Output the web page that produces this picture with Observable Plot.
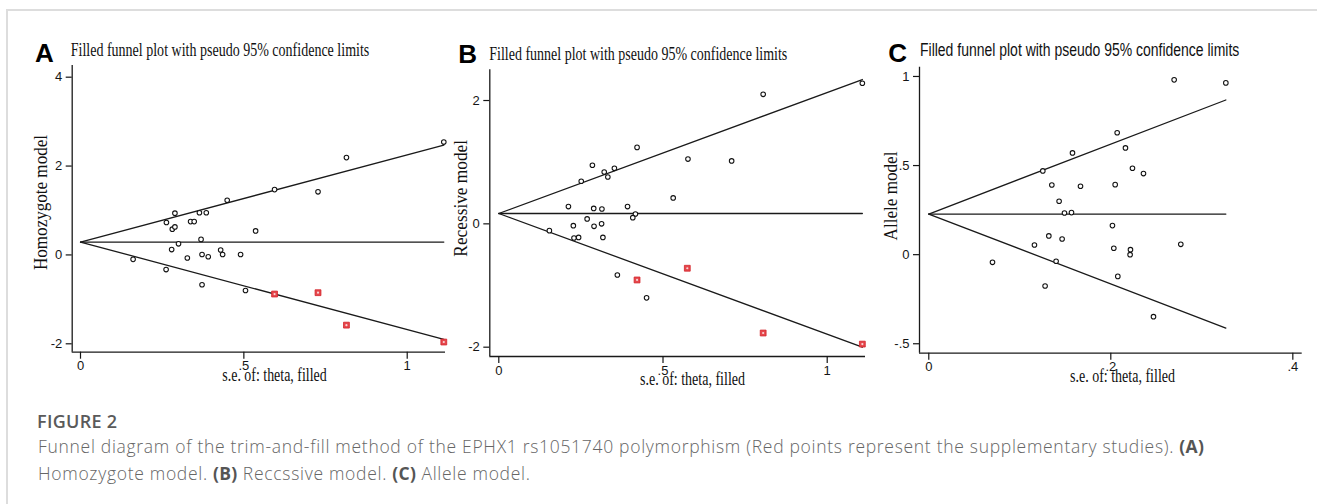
<!DOCTYPE html>
<html>
<head>
<meta charset="utf-8">
<script src="https://cdn.jsdelivr.net/npm/d3@7"></script>
<script src="https://cdn.jsdelivr.net/npm/@observablehq/plot@0.6"></script>
<style>
  html, body { margin: 0; padding: 0; background: #fff; }
  body { width: 1317px; height: 504px; overflow: hidden; position: relative; }
  #card { position: absolute; left: 6px; top: 9px; width: 1320px; height: 500px;
          border-top: 2px solid #dddddd; border-left: 2px solid #dddddd; }
  .panel { position: absolute; top: 0; }
  .panel svg { overflow: visible; }
  #figlabel { position: absolute; left: 37px; top: 409px; font-family: "Open Sans", "Noto Sans", sans-serif;
              font-weight: 600; font-size: 18px; color: #5a5a5a; letter-spacing: 0.3px; white-space: nowrap; }
  #caption { position: absolute; left: 38px; top: 433px; font-family: "Open Sans", "Noto Sans", sans-serif;
             font-weight: 300; font-size: 17.5px; letter-spacing: 0.7px; line-height: 27px; color: #666; white-space: nowrap; }
  #caption b { font-weight: 700; color: #555; letter-spacing: 0.3px; }
</style>
</head>
<body>
<div id="card"></div>
<div id="pA" class="panel"></div>
<div id="pB" class="panel"></div>
<div id="pC" class="panel"></div>
<div id="figlabel">FIGURE 2</div>
<div id="caption">Funnel diagram of the trim-and-fill method of the EPHX1 rs1051740 polymorphism (Red points represent the supplementary studies). <b>(A)</b><br>Homozygote model. <b>(B)</b> Reccssive model. <b>(C)</b> Allele model.</div>
<script>
// ---------------- DATA ----------------
// Panel A: Homozygote model (observed studies)
const seA = [1.112, 0.814, 0.727, 0.594, 0.449, 0.536, 0.289, 0.263, 0.281, 0.289, 0.337, 0.348, 0.364, 0.385,
             0.369, 0.300, 0.279, 0.327, 0.372, 0.391, 0.429, 0.435, 0.490, 0.161, 0.262, 0.372, 0.505];
const esA = [2.54, 2.19, 1.42, 1.47, 1.23, 0.54, 0.94, 0.73, 0.58, 0.63, 0.75, 0.75, 0.95, 0.95,
             0.35, 0.25, 0.12, -0.07, 0.01, -0.04, 0.11, 0.01, 0.01, -0.10, -0.33, -0.67, -0.80];
// Panel A: filled (supplementary) studies
const seFillA = [0.594, 0.727, 0.814, 1.112];
const esFillA = [-0.88, -0.85, -1.58, -1.96];
// Panel A: pseudo 95% limits (read endpoints)
const funnelSeA = [0, 1.112];
const funnelUpA = [0.29, 2.47];
const funnelLoA = [0.29, -1.90];
const thetaA = 0.29;

// Panel B: Recessive model
const seB = [1.107, 0.805, 0.421, 0.576, 0.709, 0.285, 0.321, 0.332, 0.352, 0.251, 0.531, 0.212, 0.289, 0.314,
             0.392, 0.416, 0.408, 0.269, 0.313, 0.227, 0.290, 0.154, 0.229, 0.243, 0.317, 0.361, 0.450];
const esB = [2.28, 2.10, 1.24, 1.05, 1.02, 0.95, 0.84, 0.76, 0.90, 0.69, 0.42, 0.28, 0.25, 0.24,
             0.28, 0.16, 0.10, 0.08, 0.00, -0.03, -0.04, -0.11, -0.23, -0.22, -0.22, -0.83, -1.20];
const seFillB = [0.421, 0.574, 0.805, 1.107];
const esFillB = [-0.91, -0.72, -1.77, -1.95];
const funnelSeB = [0, 1.107];
const funnelUpB = [0.168, 2.34];
const funnelLoB = [0.168, -2.00];
const thetaB = 0.168;

// Panel C: Allele model
const seC = [0.2696, 0.3264, 0.2070, 0.2161, 0.1579, 0.2238, 0.2359, 0.1253, 0.1352, 0.1667, 0.2048, 0.1432, 0.1491, 0.1568,
             0.2018, 0.1319, 0.1465, 0.1161, 0.2033, 0.2216, 0.2212, 0.2769, 0.0700, 0.1399, 0.1278, 0.2077, 0.2469];
const esC = [0.981, 0.964, 0.684, 0.599, 0.571, 0.485, 0.455, 0.470, 0.391, 0.384, 0.393, 0.300, 0.234, 0.236,
             0.163, 0.105, 0.088, 0.054, 0.036, 0.028, 0.000, 0.058, -0.043, -0.037, -0.176, -0.122, -0.348];
const seFillC = [];
const esFillC = [];
const funnelSeC = [0, 0.3264];
const funnelUpC = [0.228, 0.868];
const funnelLoC = [0.228, -0.412];
const thetaC = 0.228;

// Tick values and labels
const xTicksA = [0, 0.5, 1],        xTickLabelsA = ["0", ".5", "1"];
const yTicksA = [-2, 0, 2, 4],      yTickLabelsA = ["-2", "0", "2", "4"];
const xTicksB = [0, 0.5, 1],        xTickLabelsB = ["0", ".5", "1"];
const yTicksB = [-2, 0, 2],         yTickLabelsB = ["-2", "0", "2"];
const xTicksC = [0, 0.2, 0.4],      xTickLabelsC = ["0", ".2", ".4"];
const yTicksC = [-0.5, 0, 0.5, 1],  yTickLabelsC = ["-.5", "0", ".5", "1"];

const titleText = "Filled funnel plot with pseudo 95% confidence limits";
const xTitleText = "s.e. of: theta, filled";

// ---------------- LAYOUT ----------------
const SERIF = "'Liberation Serif', 'Times New Roman', serif";
const SANS = "'Liberation Sans', Arial, Helvetica, sans-serif";

const panels = [
  { id: "pA", left: 0, width: 450, mL: 71.7, mR: 5, mT: 65, mB: 48.3,
    xDom: [-0.0254, 1.1172], yDom: [-2.189, 4.263],
    se: seA, es: esA, seF: seFillA, esF: esFillA, fSe: funnelSeA, fUp: funnelUpA, fLo: funnelLoA, theta: thetaA,
    xt: xTicksA, xl: xTickLabelsA, yt: yTicksA, yl: yTickLabelsA,
    letter: "A", letterX: 35, letterY: 61.7,
    title: { x: 70.7, y: 56, len: 298.6, family: SERIF, size: 19 },
    yTitle: { text: "Homozygote model", x: 46.7, y: 202.5, len: 135 },
    xTitle: { x: 222.3, y: 380.7, len: 104.4 } },
  { id: "pB", left: 450, width: 420, mL: 39.3, mR: 5, mT: 69.3, mB: 44,
    xDom: [-0.0274, 1.1166], yDom: [-2.151, 2.498],
    se: seB, es: esB, seF: seFillB, esF: esFillB, fSe: funnelSeB, fUp: funnelUpB, fLo: funnelLoB, theta: thetaB,
    xt: xTicksB, xl: xTickLabelsB, yt: yTicksB, yl: yTickLabelsB,
    letter: "B", letterX: 8.3, letterY: 62.7,
    title: { x: 39.3, y: 60, len: 298, family: SERIF, size: 19 },
    yTitle: { text: "Recessive model", x: 17.3, y: 198.3, len: 116.7 },
    xTitle: { x: 190, y: 385, len: 105 } },
  { id: "pC", left: 870, width: 447, mL: 49, mR: 15.3, mT: 66.7, mB: 47.3,
    xDom: [-0.0102, 0.4103], yDom: [-0.553, 1.052],
    se: seC, es: esC, seF: seFillC, esF: esFillC, fSe: funnelSeC, fUp: funnelUpC, fLo: funnelLoC, theta: thetaC,
    xt: xTicksC, xl: xTickLabelsC, yt: yTicksC, yl: yTickLabelsC,
    letter: "C", letterX: 18.3, letterY: 61.7,
    title: { x: 50, y: 56, len: 319.3, family: SANS, size: 18 },
    yTitle: { text: "Allele model", x: 26.7, y: 196, len: 89 },
    xTitle: { x: 200, y: 381.7, len: 105 } }
];

function addText(svg, o) {
  const t = svg.append("text")
    .attr("x", o.rotate ? 0 : o.x)
    .attr("y", o.rotate ? 0 : o.y)
    .attr("font-family", o.family)
    .attr("font-size", o.size)
    .attr("font-weight", o.weight || "normal")
    .attr("fill", o.fill || "#111")
    .attr("text-anchor", o.anchor || "start")
    .text(o.text);
  if (o.rotate) t.attr("transform", `translate(${o.x},${o.y}) rotate(-90)`);
  if (o.len) t.attr("textLength", o.len).attr("lengthAdjust", "spacingAndGlyphs");
  return t;
}

for (const p of panels) {
  const pts = p.se.map((s, i) => ({ se: s, es: p.es[i] }));
  const fill = p.seF.map((s, i) => ({ se: s, es: p.esF[i] }));
  const up = p.fSe.map((s, i) => ({ se: s, v: p.fUp[i] }));
  const lo = p.fSe.map((s, i) => ({ se: s, v: p.fLo[i] }));
  const mid = p.fSe.map((s) => ({ se: s, v: p.theta }));

  const chart = Plot.plot({
    width: p.width, height: 400,
    marginLeft: p.mL, marginRight: p.mR, marginTop: p.mT, marginBottom: p.mB,
    style: { background: "transparent", fontFamily: SANS, fontSize: "13px", color: "#151515", overflow: "visible" },
    x: { domain: p.xDom },
    y: { domain: p.yDom },
    marks: [
      Plot.ruleX([p.xDom[0]], { stroke: "#1a1a1a", strokeWidth: 1.3 }),
      Plot.ruleY([p.yDom[0]], { stroke: "#1a1a1a", strokeWidth: 1.3 }),
      Plot.axisX({ ticks: p.xt, tickFormat: (d) => p.xl[p.xt.indexOf(d)], tickSize: 7, tickPadding: 2,
                   strokeWidth: 1.2, label: null, fontSize: 13 }),
      Plot.axisY({ ticks: p.yt, tickFormat: (d) => p.yl[p.yt.indexOf(d)], tickSize: 6, tickPadding: 4,
                   strokeWidth: 1.2, label: null, fontSize: 13 }),
      Plot.line(up, { x: "se", y: "v", stroke: "#1a1a1a", strokeWidth: 1.3 }),
      Plot.line(lo, { x: "se", y: "v", stroke: "#1a1a1a", strokeWidth: 1.3 }),
      Plot.line(mid, { x: "se", y: "v", stroke: "#1a1a1a", strokeWidth: 1.3 }),
      Plot.dot(pts, { x: "se", y: "es", r: 2.3, stroke: "#111", strokeWidth: 1.05, fill: "white" }),
      Plot.dot(fill, { x: "se", y: "es", r: 3.3, symbol: "square", fill: "#e6474c", stroke: "#d3232a", strokeWidth: 0.8 }),
      Plot.dot(fill, { x: "se", y: "es", r: 1.1, fill: "#f7d4d5", stroke: "none" })
    ]
  });

  const svg = d3.select(chart);
  svg.selectAll("[aria-label$='tick label']").attr("font-size", 13)
     .selectAll("text").attr("font-size", 13);
  addText(svg, { text: p.letter, x: p.letterX, y: p.letterY, family: SANS, size: 26, weight: "bold", fill: "#000" });
  addText(svg, { text: titleText, x: p.title.x, y: p.title.y, family: p.title.family, size: p.title.size, len: p.title.len });
  addText(svg, { text: p.yTitle.text, x: p.yTitle.x, y: p.yTitle.y, family: SERIF, size: 18.5, len: p.yTitle.len,
                 rotate: true, anchor: "middle" });
  addText(svg, { text: xTitleText, x: p.xTitle.x, y: p.xTitle.y, family: SERIF, size: 19, len: p.xTitle.len });

  const host = document.getElementById(p.id);
  host.style.left = p.left + "px";
  host.appendChild(chart);
}
</script>
</body>
</html>
